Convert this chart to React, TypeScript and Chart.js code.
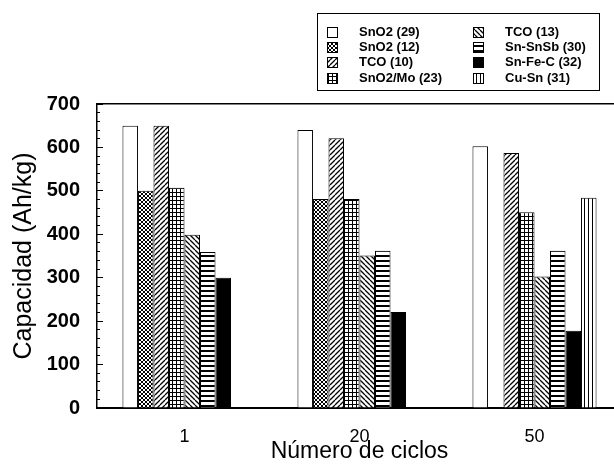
import { useEffect, useRef } from 'react';
import { Chart, registerables } from 'chart.js';

Chart.register(...registerables);

// ---------- data ----------
const categories = ['1', '20', '50'];
const seriesNames = [
  'SnO2 (29)',
  'SnO2 (12)',
  'TCO (10)',
  'SnO2/Mo (23)',
  'TCO (13)',
  'Sn-SnSb (30)',
  'Sn-Fe-C (32)',
  'Cu-Sn (31)',
];
const sno2_29 = [650, 640, 603];
const sno2_12 = [500, 481, null];
const tco_10 = [650, 621, 587];
const sno2Mo_23 = [507, 481, 451];
const tco_13 = [399, 351, 303];
const snSnSb_30 = [359, 362, 362];
const snFeC_32 = [300, 221, 178];
const cuSn_31 = [null, null, 484];
const seriesValues = [sno2_29, sno2_12, tco_10, sno2Mo_23, tco_13, snSnSb_30, snFeC_32, cuSn_31];

const yMin = 0;
const yMax = 700;
const yMajorStep = 100;
const yMinorStep = 20;
const xTitle = 'Número de ciclos';
const yTitle = 'Capacidad (Ah/kg)';

// ---------- styles ----------
const fillKinds = ['white', 'cross', 'fwd', 'grid', 'back', 'horiz', 'black', 'vert'];
const FONT = "'Liberation Sans', Arial, Helvetica, sans-serif";
const W = 630;
const H = 465;

function makeFill(kind: string): any {
  if (kind === 'white') return '#ffffff';
  if (kind === 'black') return '#000000';
  const size = kind === 'horiz' || kind === 'fwd' || kind === 'back' ? 5 : 4;
  const c = document.createElement('canvas');
  c.width = size;
  c.height = size;
  const g = c.getContext('2d') as CanvasRenderingContext2D;
  g.fillStyle = '#ffffff';
  g.fillRect(0, 0, size, size);
  g.fillStyle = '#000000';
  g.strokeStyle = '#000000';
  const diag = (dir: number, lw: number) => {
    g.lineWidth = lw;
    g.beginPath();
    for (const o of [-size, 0, size]) {
      if (dir > 0) {
        g.moveTo(o, size);
        g.lineTo(o + size, 0);
      } else {
        g.moveTo(o, 0);
        g.lineTo(o + size, size);
      }
    }
    g.stroke();
  };
  switch (kind) {
    case 'horiz':
      g.fillRect(0, 0, size, 2);
      break;
    case 'vert':
      g.fillRect(0, 0, 1, size);
      break;
    case 'grid':
      g.fillRect(0, 0, size, 1);
      g.fillRect(0, 0, 1, size);
      break;
    case 'fwd':
      diag(1, 1.3);
      break;
    case 'back':
      diag(-1, 1.3);
      break;
    case 'cross':
      diag(1, 1.0);
      diag(-1, 1.0);
      break;
  }
  return g.createPattern(c, 'repeat');
}

const boxLegend = {
  id: 'boxLegend',
  afterDraw(chart: any) {
    const ctx = chart.ctx as CanvasRenderingContext2D;
    ctx.save();
    ctx.strokeStyle = '#000';
    ctx.lineWidth = 1;
    ctx.strokeRect(317.5, 13.5, 282, 77);
    ctx.font = `bold 13px ${FONT}`;
    ctx.textBaseline = 'middle';
    ctx.textAlign = 'left';
    chart.data.datasets.forEach((ds: any, i: number) => {
      const col = Math.floor(i / 4);
      const row = i % 4;
      const cy = Math.round(32 + row * 15.2);
      const sx = col === 0 ? 327 : 473;
      const tx = col === 0 ? 359 : 505;
      ctx.fillStyle = ds.backgroundColor;
      ctx.fillRect(sx, cy - 5, 10, 10);
      ctx.strokeStyle = '#000';
      ctx.strokeRect(sx + 0.5, cy - 4.5, 10, 10);
      ctx.fillStyle = '#000';
      ctx.fillText(ds.label, tx, cy);
    });
    ctx.restore();
  },
};

export default function App() {
  const ref = useRef<HTMLCanvasElement | null>(null);

  useEffect(() => {
    if (!ref.current) return;
    Chart.defaults.font.family = FONT;
    Chart.defaults.color = '#000';

    const datasets = seriesNames.map((name, i) => ({
      label: name,
      data: seriesValues[i],
      backgroundColor: makeFill(fillKinds[i]),
      borderColor: '#000',
      borderWidth: 1,
      barPercentage: 1,
      categoryPercentage: 0.709,
    }));

    const chart = new Chart(ref.current, {
      type: 'bar',
      data: { labels: categories, datasets: datasets as any },
      plugins: [boxLegend],
      options: {
        responsive: false,
        animation: false,
        devicePixelRatio: 1,
        events: [],
        layout: { padding: { left: 0, right: W - 622, top: 104, bottom: 0 } },
        plugins: {
          legend: { display: false },
          tooltip: { enabled: false },
        },
        scales: {
          x: {
            type: 'category',
            position: 'bottom',
            grid: { display: false },
            border: { display: true, color: '#000', width: 2 },
            ticks: { font: { size: 18 }, color: '#000', padding: 10 },
            title: {
              display: true,
              text: xTitle,
              font: { size: 23 },
              color: '#000',
              padding: { top: 0, bottom: 0 },
            },
            afterFit: (s: any) => {
              s.height = 57;
            },
          },
          xTop: {
            type: 'category',
            position: 'top',
            grid: { display: false },
            border: { display: true, color: '#000', width: 1.5 },
            ticks: { display: false },
            afterFit: (s: any) => {
              s.height = 0;
            },
          },
          y: {
            type: 'linear',
            position: 'left',
            weight: 1,
            min: yMin,
            max: yMax,
            ticks: {
              stepSize: yMajorStep,
              font: { size: 20, weight: 'bold' },
              color: '#000',
              padding: 23,
            },
            grid: {
              display: true,
              drawOnChartArea: false,
              drawTicks: true,
              tickLength: -6,
              color: '#000',
              lineWidth: 1,
            },
            border: { display: true, color: '#000', width: 1.5 },
            title: {
              display: true,
              text: yTitle,
              font: { size: 25 },
              color: '#000',
              padding: { top: 9, bottom: 0 },
            },
            afterFit: (s: any) => {
              s.width = 97;
            },
          },
          yMinor: {
            type: 'linear',
            position: 'left',
            weight: 0,
            min: yMin,
            max: yMax,
            ticks: { display: false, stepSize: yMinorStep },
            grid: {
              display: true,
              drawOnChartArea: false,
              drawTicks: true,
              tickLength: -3,
              color: '#000',
              lineWidth: 1,
            },
            border: { display: false },
            afterFit: (s: any) => {
              s.width = 0;
            },
          },
        },
      } as any,
    });
    return () => chart.destroy();
  }, []);

  return (
    <div
      style={{
        position: 'fixed',
        left: 0,
        top: 0,
        width: 614,
        height: 465,
        overflow: 'hidden',
        background: '#ffffff',
      }}
    >
      <canvas ref={ref} width={W} height={H} style={{ display: 'block', width: W, height: H }} />
    </div>
  );
}
